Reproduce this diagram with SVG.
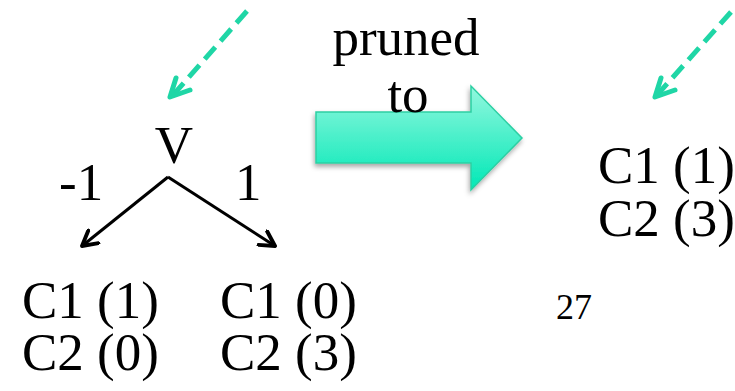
<svg xmlns="http://www.w3.org/2000/svg" width="735" height="391" viewBox="0 0 735 391" font-family="'Liberation Serif', 'Times New Roman', serif">
<style>
text{font-family:'Liberation Serif','Times New Roman',serif;fill:#000}
.big{font-family:'Liberation Serif','Times New Roman',serif;font-size:53px}
.dash{fill:none;stroke:#1fd6a6;stroke-width:5;stroke-dasharray:16 8}
.head{fill:none;stroke:#1fd6a6;stroke-width:5;stroke-linecap:round;stroke-linejoin:round}
.edge{fill:none;stroke:#000;stroke-width:3}
</style>
<defs>
<linearGradient id="g" x1="0" y1="0" x2="0" y2="1">
<stop offset="0" stop-color="#93f7de"/>
<stop offset="1" stop-color="#00e8b6"/>
</linearGradient>
<filter id="sh" x="-20%" y="-20%" width="140%" height="140%">
<feDropShadow dx="-1" dy="3" stdDeviation="2.5" flood-color="#000" flood-opacity="0.35"/>
</filter>
<marker id="ah" viewBox="0 0 12 12" refX="10" refY="6" markerWidth="6.5" markerHeight="6.5" orient="auto" markerUnits="strokeWidth">
<path d="M1,1 L10,6 L1,11" fill="none" stroke="#000" stroke-width="2.4" stroke-linejoin="round" stroke-linecap="round"/>
</marker>
</defs>
<g id="connectors">
<line class="edge" x1="168" y1="177" x2="82" y2="246" marker-end="url(#ah)"/>
<line class="edge" x1="168" y1="177" x2="275" y2="246" marker-end="url(#ah)"/>
<g id="pointer-left">
<line class="dash" x1="247" y1="11" x2="174" y2="94"/>
<polyline class="head" points="176,78 170,97 190,90"/>
</g>
<g id="pointer-right">
<line class="dash" x1="731" y1="12" x2="658" y2="94"/>
<polyline class="head" points="661,78 655,97 675,90"/>
</g>
</g>
<g id="pruned-arrow">
<path d="M316,112 L471,112 L471,86 L522,138 L471,190 L471,163 L316,163 Z" fill="url(#g)" stroke="#2ccfa3" stroke-width="1.5" filter="url(#sh)"/>
<text class="big" x="406" y="55" text-anchor="middle">pruned</text>
<text class="big" x="408" y="112" text-anchor="middle">to</text>
</g>
<g id="node-V">
<text class="big" x="174" y="163" text-anchor="middle" font-size="55">V</text>
</g>
<g id="label-neg1">
<text class="big" x="59" y="200">-1</text>
</g>
<g id="label-1">
<text class="big" x="235" y="200">1</text>
</g>
<g id="leaf-left">
<text class="big" x="22" y="318">C1 (1)<tspan x="22" dy="52">C2 (0)</tspan></text>
</g>
<g id="leaf-right">
<text class="big" x="220" y="318">C1 (0)<tspan x="220" dy="52">C2 (3)</tspan></text>
</g>
<g id="pruned-leaf">
<text class="big" x="598" y="183">C1 (1)<tspan x="598" dy="53">C2 (3)</tspan></text>
</g>
<text x="556" y="319" font-size="36">27</text>
</svg>
